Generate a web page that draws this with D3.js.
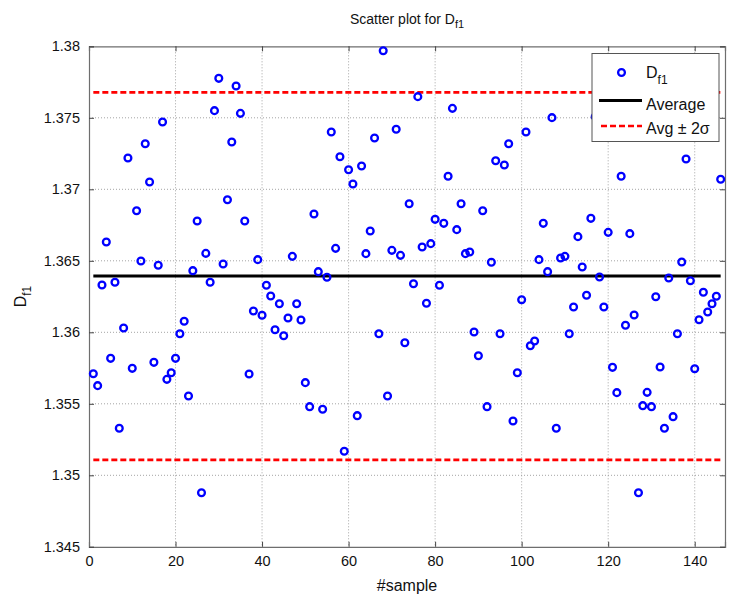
<!DOCTYPE html>
<html>
<head>
<meta charset="utf-8">
<script src="https://cdn.jsdelivr.net/npm/d3@7"></script>
<style>
  html, body { margin: 0; padding: 0; background: #fff; }
  svg { display: block; font-family: "Liberation Sans", Arial, sans-serif; }
</style>
</head>
<body>
<svg id="chart" width="736" height="601"></svg>
<script>
// D_f1 value for each sample, sample numbers start at 1
const dfValues = [
  1.35710, 1.35627, 1.36331, 1.36631, 1.35818, 1.36350, 1.35329, 1.36030, 1.37219, 1.35748,
  1.36850, 1.36499, 1.37319, 1.37051, 1.35790, 1.36469, 1.37471, 1.35671, 1.35717, 1.35818,
  1.35990, 1.36077, 1.35555, 1.36431, 1.36778, 1.34878, 1.36552, 1.36350, 1.37550, 1.37776,
  1.36478, 1.36927, 1.37331, 1.37722, 1.37531, 1.36778, 1.35708, 1.36149, 1.36508, 1.36119,
  1.36329, 1.36254, 1.36018, 1.36200, 1.35976, 1.36100, 1.36531, 1.36200, 1.36086, 1.35648,
  1.35480, 1.36827, 1.36424, 1.35462, 1.36385, 1.37401, 1.36587, 1.37228, 1.35168, 1.37137,
  1.37037, 1.35417, 1.37163, 1.36550, 1.36708, 1.37359, 1.35990, 1.37969, 1.35555, 1.36573,
  1.37420, 1.36538, 1.35927, 1.36899, 1.36340, 1.37648, 1.36597, 1.36203, 1.36620, 1.36790,
  1.36329, 1.36762, 1.37091, 1.37566, 1.36718, 1.36899, 1.36550, 1.36562, 1.36002, 1.35836,
  1.36850, 1.35480, 1.36490, 1.37200, 1.35990, 1.37170, 1.37319, 1.35380, 1.35717, 1.36228,
  1.37401, 1.35906, 1.35939, 1.36508, 1.36762, 1.36424, 1.37501, 1.35329, 1.36520, 1.36531,
  1.35990, 1.36177, 1.36669, 1.36457, 1.36259, 1.36797, 1.37508, 1.36387, 1.36177, 1.36699,
  1.35755, 1.35578, 1.37091, 1.36049, 1.36690, 1.36121, 1.34878, 1.35487, 1.35580, 1.35480,
  1.36249, 1.35757, 1.35329, 1.36380, 1.35410, 1.35990, 1.36492, 1.37212, 1.36361, 1.35745,
  1.36088, 1.36280, 1.36142, 1.36200, 1.36252, 1.37070
];
const samples = dfValues.map((v, i) => i + 1);

// Reference lines: mean and mean ± 2 sigma
const avgValue = 1.36393;
const twoSigma = 0.01285;

// Axis ticks
const xTicks = [0, 20, 40, 60, 80, 100, 120, 140];
const yTicks = [1.345, 1.35, 1.355, 1.36, 1.365, 1.37, 1.375, 1.38];

const legendLabels = ["D", "Average", "Avg \u00B1 2\u03C3"];

const svg = d3.select("#chart");
const plotLeft = 89, plotRight = 725, plotTop = 46.3, plotBottom = 546.8;

const x = d3.scaleLinear().domain([0, 147]).range([plotLeft, plotRight]);
const y = d3.scaleLinear().domain([1.345, 1.38]).range([plotBottom, plotTop]);

// dotted grid
const grid = svg.append("g");
grid.selectAll(".gx").data(xTicks.filter(t => t > 0)).join("line")
  .attr("x1", d => x(d)).attr("x2", d => x(d))
  .attr("y1", plotTop).attr("y2", plotBottom)
  .attr("stroke", "#9a9a9a").attr("stroke-width", 0.9)
  .attr("stroke-dasharray", "1,2");
grid.selectAll(".gy").data(yTicks.filter(t => t > 1.345 && t < 1.38)).join("line")
  .attr("x1", plotLeft).attr("x2", plotRight)
  .attr("y1", d => y(d)).attr("y2", d => y(d))
  .attr("stroke", "#9a9a9a").attr("stroke-width", 0.9)
  .attr("stroke-dasharray", "1,2");

// axes on all four sides with inward ticks
const tickLen = 5;
const fmt = d => String(+d.toFixed(3));
const axisColor = "#6e6e6e";

const xBottom = svg.append("g").attr("transform", `translate(0,${plotBottom})`)
  .call(d3.axisBottom(x).tickValues(xTicks).tickSize(-tickLen).tickPadding(9).tickFormat(d3.format("d")));
const xTop = svg.append("g").attr("transform", `translate(0,${plotTop})`)
  .call(d3.axisTop(x).tickValues(xTicks).tickSize(-tickLen).tickFormat(""));
const yLeft = svg.append("g").attr("transform", `translate(${plotLeft},0)`)
  .call(d3.axisLeft(y).tickValues(yTicks).tickSize(-tickLen).tickPadding(9).tickFormat(fmt));
const yRight = svg.append("g").attr("transform", `translate(${plotRight},0)`)
  .call(d3.axisRight(y).tickValues(yTicks).tickSize(-tickLen).tickFormat(""));

[xBottom, xTop, yLeft, yRight].forEach(g => {
  g.select(".domain").attr("stroke", axisColor).attr("stroke-width", 1.2);
  g.selectAll(".tick line").attr("stroke", "#444").attr("stroke-width", 1);
  g.selectAll(".tick text").attr("fill", "#111").attr("font-size", 14.5)
    .attr("font-family", "Liberation Sans, Arial, sans-serif");
});

// reference lines
const lineExtent = [1, 146];
svg.append("line")
  .attr("x1", x(lineExtent[0])).attr("x2", x(lineExtent[1]))
  .attr("y1", y(avgValue)).attr("y2", y(avgValue))
  .attr("stroke", "#000").attr("stroke-width", 3);
[avgValue + twoSigma, avgValue - twoSigma].forEach(v => {
  svg.append("line")
    .attr("x1", x(lineExtent[0])).attr("x2", x(lineExtent[1]))
    .attr("y1", y(v)).attr("y2", y(v))
    .attr("stroke", "#ff0000").attr("stroke-width", 2.6)
    .attr("stroke-dasharray", "6,3");
});

// sample markers
svg.append("g").selectAll("circle").data(samples).join("circle")
  .attr("cx", d => x(d))
  .attr("cy", (d, i) => y(dfValues[i]))
  .attr("r", 3.4)
  .attr("fill", "none")
  .attr("stroke", "#0000ff")
  .attr("stroke-width", 2.3);

// title with subscript
const title = svg.append("text")
  .attr("x", (plotLeft + plotRight) / 2).attr("y", 24)
  .attr("text-anchor", "middle").attr("font-size", 14).attr("fill", "#111");
title.append("tspan").text("Scatter plot for D");
title.append("tspan").attr("dy", 4).attr("font-size", 11).text("f1");

// x label
svg.append("text")
  .attr("x", (plotLeft + plotRight) / 2).attr("y", 591)
  .attr("text-anchor", "middle").attr("font-size", 16).attr("fill", "#111")
  .text("#sample");

// y label
const yl = svg.append("text")
  .attr("transform", `translate(26,${(plotTop + plotBottom) / 2}) rotate(-90)`)
  .attr("text-anchor", "middle").attr("font-size", 16).attr("fill", "#111");
yl.append("tspan").text("D");
yl.append("tspan").attr("dy", 5).attr("font-size", 12).text("f1");

// legend
const lg = svg.append("g");
lg.append("rect")
  .attr("x", 592).attr("y", 53.5).attr("width", 127).attr("height", 88)
  .attr("fill", "#fff").attr("stroke", "#555").attr("stroke-width", 1);
lg.append("circle").attr("cx", 621.5).attr("cy", 72.5).attr("r", 3.4)
  .attr("fill", "none").attr("stroke", "#0000ff").attr("stroke-width", 2.3);
const l1 = lg.append("text").attr("x", 646).attr("y", 78).attr("font-size", 16).attr("fill", "#111");
l1.append("tspan").text(legendLabels[0]);
l1.append("tspan").attr("dy", 6).attr("font-size", 12).text("f1");
lg.append("line").attr("x1", 599).attr("x2", 642).attr("y1", 100.5).attr("y2", 100.5)
  .attr("stroke", "#000").attr("stroke-width", 3);
lg.append("text").attr("x", 646).attr("y", 110).attr("font-size", 16).attr("fill", "#111")
  .text(legendLabels[1]);
lg.append("line").attr("x1", 601).attr("x2", 642).attr("y1", 126).attr("y2", 126)
  .attr("stroke", "#ff0000").attr("stroke-width", 2.6).attr("stroke-dasharray", "6,3");
lg.append("text").attr("x", 646).attr("y", 134).attr("font-size", 16).attr("fill", "#111")
  .text(legendLabels[2]);
</script>
</body>
</html>
